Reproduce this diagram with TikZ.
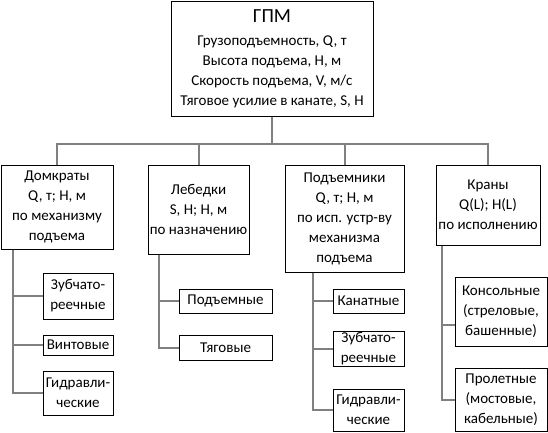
\documentclass[tikz,border=0pt]{standalone}
\usepackage{fontspec}
\setmainfont{Carlito}
\begin{document}
\begin{tikzpicture}[x=1pt,y=-1pt,
  box/.style={draw=black,line width=1pt,inner sep=0pt,align=center,
    font=\fontsize{15}{20}\selectfont},
  conn/.style={draw=black!50,line width=2pt}]
\useasboundingbox (0,0) rectangle (548,432);
% top
\node[box,minimum width=202,minimum height=115] (top) at (272,58.5)
  {{\fontsize{20}{24}\selectfont ГПМ}\\[3pt]Грузоподъемность, Q, т\\Высота подъема, H, м\\Скорость подъема, V, м/с\\Тяговое усилие в канате, S, Н};
% level 2
\node[box,minimum width=112,minimum height=84] (dom) at (57,207)
  {Домкраты\\Q, т; H, м\\по механизму\\подъема};
\node[box,minimum width=101,minimum height=89] (leb) at (198.5,209.5)
  {Лебедки\\S, Н; H, м\\по назначению};
\node[box,minimum width=119,minimum height=107] (pod) at (344.5,218.5)
  {Подъемники\\Q, т; H, м\\по исп. устр-ву\\механизма\\подъема};
\node[box,minimum width=104,minimum height=80] (kran) at (488,205)
  {Краны\\Q(L); H(L)\\по исполнению};
% level 3 - Домкраты
\node[box,minimum width=70,minimum height=46] (dz) at (78,296) {Зубчато-\\реечные};
\node[box,minimum width=70,minimum height=20] (dv) at (78,345) {Винтовые};
\node[box,minimum width=70,minimum height=44] (dg) at (78,393) {Гидравли-\\ческие};
% Лебедки
\node[box,minimum width=93,minimum height=24] (lp) at (225.5,301) {Подъемные};
\node[box,minimum width=93,minimum height=25] (lt) at (225.5,347.5) {Тяговые};
% Подъемники
\node[box,minimum width=71,minimum height=24] (pk) at (368.5,301) {Канатные};
\node[box,minimum width=71,minimum height=35] (pz) at (368.5,348.5) {Зубчато-\\реечные};
\node[box,minimum width=71,minimum height=42] (pg) at (368.5,410) {Гидравли-\\ческие};
% Краны
\node[box,minimum width=92,minimum height=69] (kk) at (501,311.5) {Консольные\\(стреловые,\\башенные)};
\node[box,minimum width=92,minimum height=63] (kp) at (501,399.5) {Пролетные\\(мостовые,\\кабельные)};
% bus
\coordinate (bus) at (0,144);
\draw[conn] (top.south) -- (top.south |- bus);
\draw[conn] (dom.north) |- (kran.north |- bus) -- (kran.north);
\draw[conn] (leb.north) -- (leb.north |- bus);
\draw[conn] (pod.north) -- (pod.north |- bus);
% children
\draw[conn] ([xshift=12pt]dom.south west) |- (dz.west);
\draw[conn] ([xshift=12pt]dom.south west) |- (dv.west);
\draw[conn] ([xshift=12pt]dom.south west) |- (dg.west);
\draw[conn] ([xshift=11pt]leb.south west) |- (lp.west);
\draw[conn] ([xshift=11pt]leb.south west) |- (lt.west);
\draw[conn] ([xshift=28pt]pod.south west) |- (pk.west);
\draw[conn] ([xshift=28pt]pod.south west) |- (pz.west);
\draw[conn] ([xshift=28pt]pod.south west) |- (pg.west);
\draw[conn] ([xshift=6pt]kran.south west) |- ([yshift=-13.5pt]kk.west);
\draw[conn] ([xshift=6pt]kran.south west) |- (kp.west);
\end{tikzpicture}
\end{document}
